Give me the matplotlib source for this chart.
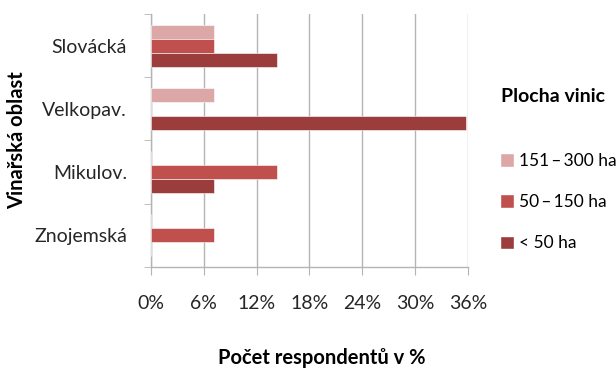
import matplotlib.pyplot as plt
import numpy as np
from matplotlib.patches import Patch

plt.rcParams['font.family'] = ['Lato', 'DejaVu Sans']

# data
regions = ["Znojemská", "Mikulov.", "Velkopav.", "Slovácká"]
series = ["151\u2009–\u2009300 ha", "50\u2009–\u2009150 ha", "< 50 ha"]
v_151_300 = [0, 0, 7.14, 7.14]
v_50_150 = [7.14, 14.29, 0, 7.14]
v_lt50 = [0, 7.14, 35.71, 14.29]
xticks = [0, 6, 12, 18, 24, 30, 36]

colors = ["#DBA8A7", "#C0504D", "#9B3D3C"]
grid_col = "#B4B4B4"

fig = plt.figure(figsize=(6.16, 3.70), dpi=100)
ax = fig.add_axes([0.2446, 0.2784, 0.5156, 0.6838])

y = np.arange(len(regions))
h = 0.222
ax.barh(y + h, v_151_300, height=h, color=colors[0], edgecolor="white", linewidth=0.4, zorder=3)
ax.barh(y, v_50_150, height=h, color=colors[1], edgecolor="white", linewidth=0.4, zorder=3)
ax.barh(y - h, v_lt50, height=h, color=colors[2], edgecolor="white", linewidth=0.4, zorder=3)

ax.set_xlim(0, 36)
ax.set_ylim(-0.5, 3.5)
ax.set_xticks(xticks)
ax.set_xticklabels([f"{t}%" for t in xticks], fontsize=14, color="#262626")
ax.set_yticks(y)
ax.set_yticklabels(regions, fontsize=14, color="#262626")
ax.set_yticks(np.arange(-0.5, 3.6, 1), minor=True)
ax.tick_params(axis="y", which="major", length=0, pad=17)
ax.tick_params(axis="y", which="minor", length=5, color=grid_col, direction="out")
ax.tick_params(axis="x", length=6, color=grid_col, pad=14)
ax.xaxis.grid(True, color=grid_col, linewidth=1.0, zorder=0)

for s in ["top", "right"]:
    ax.spines[s].set_visible(False)
for s in ["left", "bottom"]:
    ax.spines[s].set_color(grid_col)
    ax.spines[s].set_linewidth(1.0)

fig.text(0.028, 0.62, "Vinařská oblast", rotation=90, fontsize=14.5, fontweight="bold",
         ha="center", va="center")
fig.text(0.523, 0.032, "Počet respondentů v %", fontsize=14.5, fontweight="bold",
         ha="center", va="center")

fig.text(0.897, 0.738, "Plocha vinic", fontsize=14, fontweight="bold", ha="center", va="center")
handles = [Patch(facecolor=c, edgecolor="white") for c in colors]
fig.legend(handles, series, loc="upper left", bbox_to_anchor=(0.797, 0.61), frameon=False,
           fontsize=12.5, handlelength=0.8, handleheight=0.8, handletextpad=0.3,
           labelspacing=1.45, borderpad=0)

fig.savefig("out.png", dpi=100)
